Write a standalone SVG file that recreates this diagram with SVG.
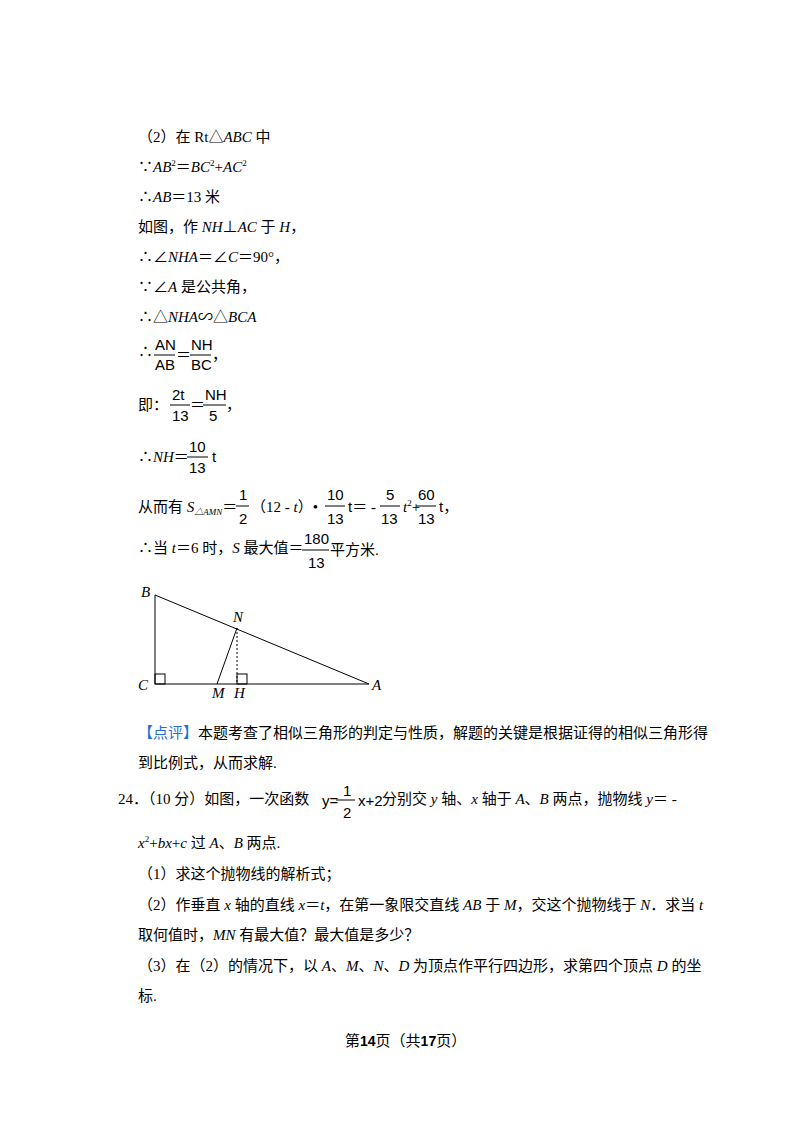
<svg xmlns="http://www.w3.org/2000/svg" width="800" height="1132" viewBox="0 0 800 1132">
<style>
text{font-family:"Liberation Serif","Noto Sans CJK SC",serif;font-size:15px;fill:#000}
.i{font-style:italic}
.s{font-family:"Liberation Sans","Noto Sans CJK SC",sans-serif;font-size:15px}
.f{stroke:#000;stroke-width:1;fill:none}
</style>
<rect width="800" height="1132" fill="#fff"/>
<text x="138" y="142">（2）在 Rt△<tspan class="i">ABC</tspan> 中</text>
<text x="138" y="172">∵<tspan class="i">AB</tspan><tspan font-size="9" dy="-6">2</tspan><tspan dy="6">＝</tspan><tspan class="i">BC</tspan><tspan font-size="9" dy="-6">2</tspan><tspan dy="6">+</tspan><tspan class="i">AC</tspan><tspan font-size="9" dy="-6">2</tspan></text>
<text x="138" y="202">∴<tspan class="i">AB</tspan>＝13 米</text>
<text x="138" y="232">如图，作 <tspan class="i">NH</tspan>⊥<tspan class="i">AC</tspan> 于 <tspan class="i">H</tspan>，</text>
<text x="138" y="262">∴∠<tspan class="i">NHA</tspan>＝∠<tspan class="i">C</tspan>＝90°，</text>
<text x="138" y="292">∵∠<tspan class="i">A</tspan> 是公共角，</text>
<text x="138" y="322">∴△<tspan class="i">NHA</tspan>∽△<tspan class="i">BCA</tspan></text>
<text x="138" y="357">∴</text>
<text class="s" x="155" y="350" font-size="14">AN</text><line class="f" x1="154" y1="355" x2="175" y2="355"/><text class="s" x="155" y="370" font-size="14">AB</text>
<text x="176" y="360">＝</text>
<text class="s" x="191" y="350" font-size="14">NH</text><line class="f" x1="190" y1="355" x2="211" y2="355"/><text class="s" x="191" y="370" font-size="14">BC</text>
<text x="212" y="360">，</text>
<text x="138" y="410">即：</text>
<text class="s" x="172" y="400">2t</text><line class="f" x1="170" y1="405" x2="190" y2="405"/><text class="s" x="172" y="421">13</text>
<text x="190" y="410">＝</text>
<text class="s" x="205" y="400">NH</text><line class="f" x1="203" y1="405" x2="226" y2="405"/><text class="s" x="209" y="421">5</text>
<text x="226" y="410">，</text>
<text x="138" y="462">∴<tspan class="i">NH</tspan>＝</text>
<text class="s" x="189" y="452">10</text><line class="f" x1="187" y1="457" x2="208" y2="457"/><text class="s" x="189" y="473">13</text>
<text class="s" x="212" y="462">t</text>
<text x="138" y="512">从而有 <tspan class="i">S</tspan><tspan font-size="9" class="i" dy="3">△AMN</tspan><tspan dy="-3">＝</tspan></text>
<text class="s" x="239" y="500">1</text><line class="f" x1="236" y1="506" x2="249" y2="506"/><text class="s" x="239" y="524">2</text>
<text x="251" y="512">（12 - <tspan class="i">t</tspan>）•</text>
<text class="s" x="327" y="500">10</text><line class="f" x1="325" y1="506" x2="345" y2="506"/><text class="s" x="327" y="524">13</text>
<text x="348" y="512"><tspan class="s">t</tspan>＝ - </text>
<text class="s" x="386" y="500">5</text><line class="f" x1="380" y1="506" x2="400" y2="506"/><text class="s" x="381" y="524">13</text>
<text x="403" y="512" class="i">t<tspan font-size="9" dy="-6" font-style="normal">2</tspan><tspan dy="6" font-style="normal">+</tspan></text>
<text class="s" x="418" y="500">60</text><line class="f" x1="416" y1="506" x2="436" y2="506"/><text class="s" x="418" y="524">13</text>
<text x="439" y="512"><tspan class="s">t</tspan>，</text>
<text x="138" y="553">∴当 <tspan class="i">t</tspan>＝6 时，<tspan class="i">S</tspan> 最大值＝</text>
<text class="s" x="304" y="544">180</text><line class="f" x1="302" y1="550" x2="329" y2="550"/><text class="s" x="308" y="568">13</text>
<text x="330" y="555">平方米.</text>
<g id="figure">
<path class="f" d="M155 595 L155 684 L369 684 Z"/>
<line class="f" x1="237" y1="628" x2="217" y2="684"/>
<line class="f" x1="237" y1="628" x2="237" y2="684" stroke-dasharray="2,2"/>
<rect class="f" x="155" y="674" width="10" height="10"/>
<rect class="f" x="237" y="674" width="10" height="10"/>
<text class="i" x="141" y="597" font-size="13">B</text>
<text class="i" x="233" y="622" font-size="13">N</text>
<text class="i" x="138" y="690" font-size="13">C</text>
<text class="i" x="212" y="698" font-size="13">M</text>
<text class="i" x="234" y="698" font-size="13">H</text>
<text class="i" x="372" y="690" font-size="13">A</text>
</g>
<text x="138" y="738"><tspan fill="#1e6fd9">【点评】</tspan>本题考查了相似三角形的判定与性质，解题的关键是根据证得的相似三角形得</text>
<text x="138" y="768">到比例式，从而求解.</text>
<text x="118" y="804">24．（10 分）如图，一次函数 </text>
<text class="s" x="322" y="806" font-size="13">y=</text><text class="s" x="343" y="796">1</text><line class="f" x1="336" y1="800" x2="355" y2="800"/><text class="s" x="343" y="818">2</text>
<text class="s" x="358" y="806" font-size="13">x+2</text>
<text x="382" y="804">分别交 <tspan class="i">y</tspan> 轴、<tspan class="i">x</tspan> 轴于 <tspan class="i">A</tspan>、<tspan class="i">B</tspan> 两点，抛物线 <tspan class="i">y</tspan>＝ -</text>
<text x="138" y="848"><tspan class="i">x</tspan><tspan font-size="9" dy="-6">2</tspan><tspan dy="6">+</tspan><tspan class="i">bx</tspan>+<tspan class="i">c</tspan> 过 <tspan class="i">A</tspan>、<tspan class="i">B</tspan> 两点.</text>
<text x="138" y="879">（1）求这个抛物线的解析式；</text>
<text x="138" y="910">（2）作垂直 <tspan class="i">x</tspan> 轴的直线 <tspan class="i">x</tspan>＝<tspan class="i">t</tspan>，在第一象限交直线 <tspan class="i">AB</tspan> 于 <tspan class="i">M</tspan>，交这个抛物线于 <tspan class="i">N</tspan>．求当 <tspan class="i">t</tspan></text>
<text x="138" y="940">取何值时，<tspan class="i">MN</tspan> 有最大值？最大值是多少？</text>
<text x="138" y="971">（3）在（2）的情况下，以 <tspan class="i">A</tspan>、<tspan class="i">M</tspan>、<tspan class="i">N</tspan>、<tspan class="i">D</tspan> 为顶点作平行四边形，求第四个顶点 <tspan class="i">D</tspan> 的坐</text>
<text x="138" y="1001">标.</text>
<text x="345" y="1046" font-size="13">第<tspan font-weight="bold" font-family="Liberation Sans" font-size="14">14</tspan>页（共<tspan font-weight="bold" font-family="Liberation Sans" font-size="14">17</tspan>页）</text>
</svg>
